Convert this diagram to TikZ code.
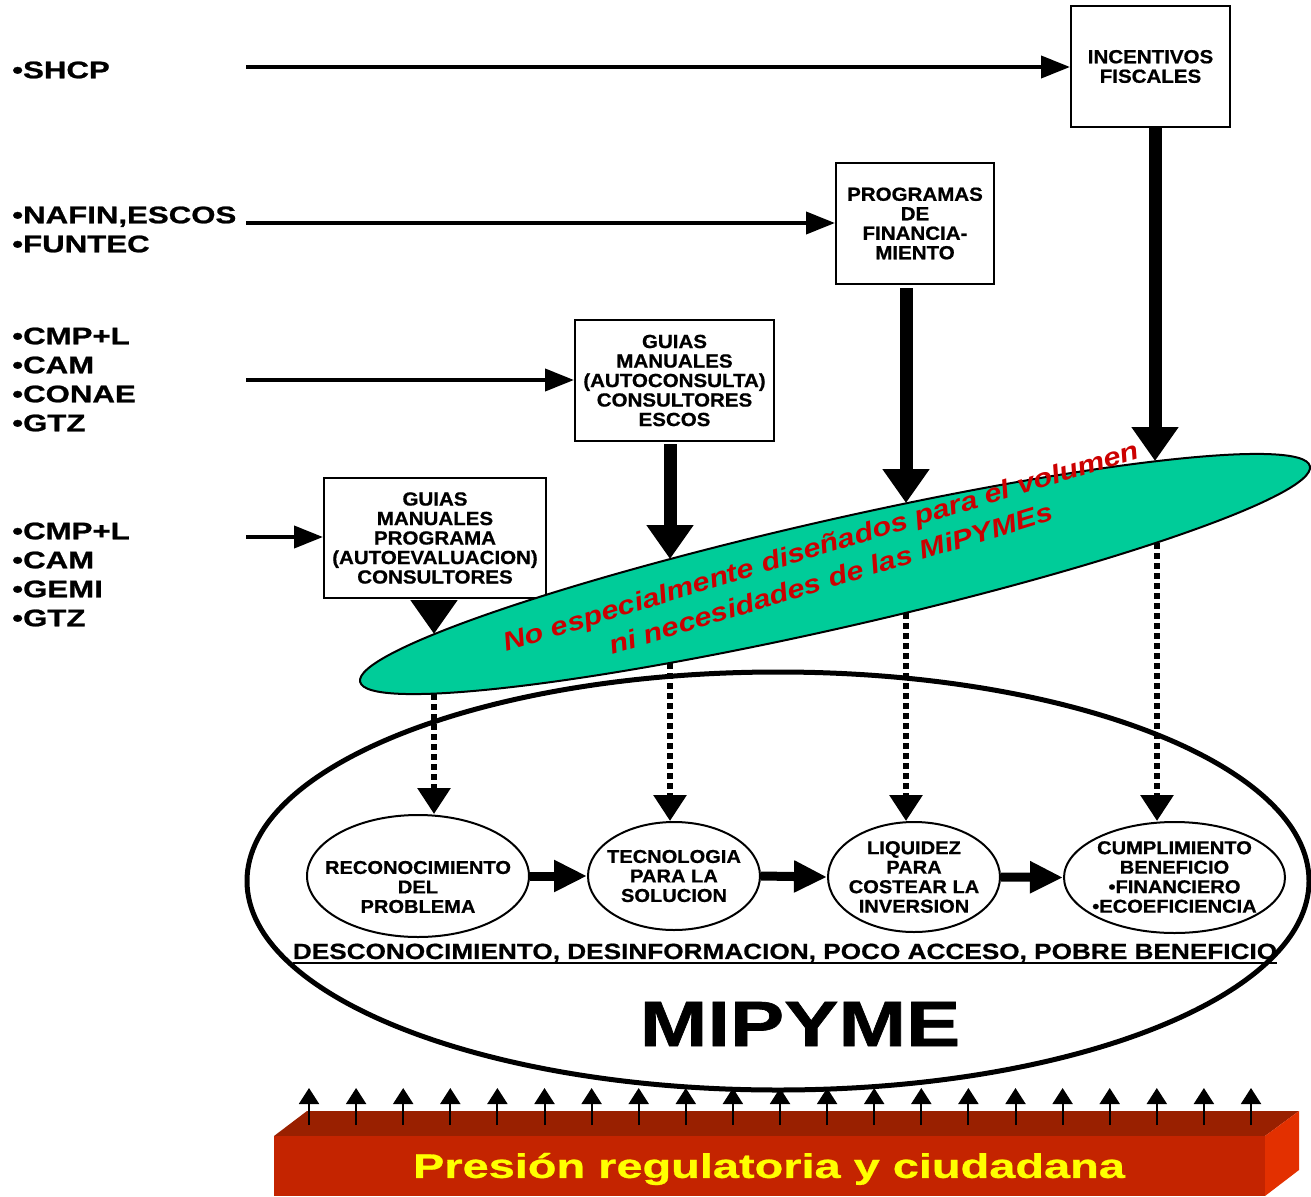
\documentclass[tikz,border=0pt]{standalone}
\usepackage{fontspec}
\setmainfont{Liberation Sans}
\newfontfamily\fL{Liberation Sans}[FakeStretch=1.3,FakeBold=1]
\newfontfamily\fB{Liberation Sans}[FakeStretch=1.08,FakeBold=0.8]
\newfontfamily\fD{Liberation Sans}[FakeStretch=1.19,FakeBold=0.8]
\newfontfamily\fM{Liberation Sans}[FakeStretch=1.27,FakeBold=1]
\newfontfamily\fP{Liberation Sans}[FakeStretch=1.38,FakeBold=0.8]
\newfontfamily\fG{Liberation Sans}[FakeStretch=1.18]
\usetikzlibrary{arrows.meta,shapes.geometric,calc}
\definecolor{grn}{RGB}{0,204,153}
\definecolor{redtxt}{RGB}{204,0,0}
\definecolor{bartop}{RGB}{153,32,0}
\definecolor{barfront}{RGB}{196,36,0}
\definecolor{barside}{RGB}{227,48,0}
\definecolor{ylw}{RGB}{255,255,0}
\begin{document}
\begin{tikzpicture}[x=1pt,y=-1pt,
  lab/.style={anchor=west,align=left,inner sep=0pt,font=\fL\bfseries\fontsize{24}{29}\selectfont},
  boxn/.style={draw,line width=2pt,align=center,inner sep=0pt,fill=white,font=\fB\bfseries\fontsize{19}{19.5}\selectfont},
  circn/.style={ellipse,draw,line width=2pt,fill=white,inner sep=0pt},
  ctext/.style={align=center,inner sep=0pt,font=\fB\bfseries\fontsize{18.6}{19.5}\selectfont},
  thinarrow/.style={line width=4pt,-{Triangle[length=29pt,width=22pt]}},
  bigarrow/.style={line width=13pt,-{Triangle[length=34pt,width=45pt]}},
  dotarrow/.style={line width=6pt,dash pattern=on 6pt off 4pt,-{Triangle[length=26pt,width=32pt]}},
  flowarrow/.style={line width=9pt,-{Triangle[length=33pt,width=30pt]}},
  uparrow/.style={line width=2pt,-{Triangle[length=16pt,width=20pt]}}
]
\useasboundingbox (0,0) rectangle (1311,1196);

% left labels
\node[lab] (l1) at (12,70) {•SHCP};
\node[lab] (l2) at (12,229.5) {•NAFIN,ESCOS\\•FUNTEC};
\node[lab] (l3) at (12,379.5) {•CMP+L\\•CAM\\•CONAE\\•GTZ};
\node[lab] (l4) at (12,574.5) {•CMP+L\\•CAM\\•GEMI\\•GTZ};

% boxes
\node[boxn,minimum width=159pt,minimum height=121pt] (inc) at (1150.5,66.5) {INCENTIVOS\\FISCALES};
\node[boxn,minimum width=158pt,minimum height=121pt] (prog) at (915,223.5) {PROGRAMAS\\DE\\FINANCIA-\\MIENTO};
\node[boxn,minimum width=199pt,minimum height=121pt] (gui2) at (674.5,380.5) {GUIAS\\MANUALES\\(AUTOCONSULTA)\\CONSULTORES\\ESCOS};
\node[boxn,minimum width=222pt,minimum height=120pt] (gui1) at (435,538) {GUIAS\\MANUALES\\PROGRAMA\\(AUTOEVALUACION)\\CONSULTORES};

% horizontal arrows
\coordinate (a1) at (246,67);
\coordinate (a2) at (246,223);
\coordinate (a3) at (246,380);
\coordinate (a4) at (246,537);
\draw[thinarrow] (a1) -- (a1 -| inc.west);
\draw[thinarrow] (a2) -- (a2 -| prog.west);
\draw[thinarrow] (a3) -- (a3 -| gui2.west);
\draw[thinarrow] (a4) -- (a4 -| gui1.west);

% MIPYME ellipse
\node[ellipse,draw,line width=5pt,fill=white,minimum width=1062pt,minimum height=418pt,inner sep=0pt] (mip) at (778,881) {};

% green ellipse
\node[ellipse,draw,line width=2pt,fill=grn,minimum width=974pt,minimum height=108pt,inner sep=0pt,rotate=12.8] (grn) at (835,574) {};

% ellipse top/bottom points
\coordinate (gt1) at (1155,461);
\coordinate (gt2) at (906,503);
\coordinate (gt3) at (670,559);
\coordinate (gt4) at (434,634);
\coordinate (gb1) at (1157,543);
\coordinate (gb2) at (906,613);
\coordinate (gb3) at (670,663);
\coordinate (gb4) at (434,694);

\draw[bigarrow] (inc.south -| gt1) -- (gt1);
\draw[bigarrow] ([yshift=-3pt]prog.south -| gt2) -- (gt2);
\draw[bigarrow] ([yshift=-2pt]gui2.south -| gt3) -- (gt3);
\draw[bigarrow] ([yshift=-2pt]gui1.south -| gt4) -- (gt4);

% green text
\node[align=center,inner sep=0pt,rotate=17,text=redtxt,font=\fG\bfseries\itshape\fontsize{26}{34}\selectfont] (gtxt) at (826,562) {No especialmente diseñados para el volumen\\ni necesidades de las MiPYMEs};

% circles
\node[circn,minimum width=222pt,minimum height=122pt] (c1) at (418,876) {};
\node[circn,minimum width=172pt,minimum height=108pt] (c2) at (674,876) {};
\node[circn,minimum width=172pt,minimum height=110pt] (c3) at (914,877) {};
\node[circn,minimum width=221pt,minimum height=111pt] (c4) at (1174.5,877.5) {};
\node[ctext] (t1) at (418,887) {RECONOCIMIENTO\\DEL\\PROBLEMA};
\node[ctext] (t2) at (674,876) {TECNOLOGIA\\PARA LA\\SOLUCION};
\node[ctext] (t3) at (914,877) {LIQUIDEZ\\PARA\\COSTEAR LA\\INVERSION};
\node[ctext] (t4) at (1174.5,877) {CUMPLIMIENTO\\BENEFICIO\\•FINANCIERO\\•ECOEFICIENCIA};

\draw[dotarrow] (gb1) -- (gb1 |- c4.north);
\draw[dotarrow] (gb2) -- (gb2 |- c3.north);
\draw[dotarrow] (gb3) -- (gb3 |- c2.north);
\draw[dotarrow] (gb4) -- (gb4 |- c1.north);

\draw[flowarrow] (c1.east) -- (c2.west);
\draw[flowarrow] (c2.east) -- (c3.west);
\draw[flowarrow] (c3.east) -- (c4.west);

% bottom line text
\node[inner sep=0pt,font=\fD\bfseries\fontsize{22}{24}\selectfont] (desc) at (785,953) {DESCONOCIMIENTO, DESINFORMACION, POCO ACCESO, POBRE BENEFICIO};
\draw[line width=2pt] ([yshift=-4pt]desc.base west) -- ([yshift=-4pt]desc.base east);

\node[inner sep=0pt,font=\fM\bfseries\fontsize{64}{66}\selectfont] (mipt) at (800,1024) {MIPYME};

% bar
\fill[bartop] (274,1136) -- (307,1111) -- (1299,1111) -- (1265,1136) -- cycle;
\fill[barfront] (274,1136) rectangle (1265,1196);
\fill[barside] (1265,1136) -- (1299,1111) -- (1299,1170) -- (1265,1196) -- cycle;
\node[inner sep=0pt,text=ylw,font=\fP\bfseries\fontsize{34}{36}\selectfont] (pres) at (769,1169) {Presión regulatoria y ciudadana};

\foreach \i in {0,...,20} {
  \coordinate (u\i) at ({309+47.1*\i},1125);
  \draw[uparrow] (u\i) -- ++(0,-37);
}
\end{tikzpicture}
\end{document}
